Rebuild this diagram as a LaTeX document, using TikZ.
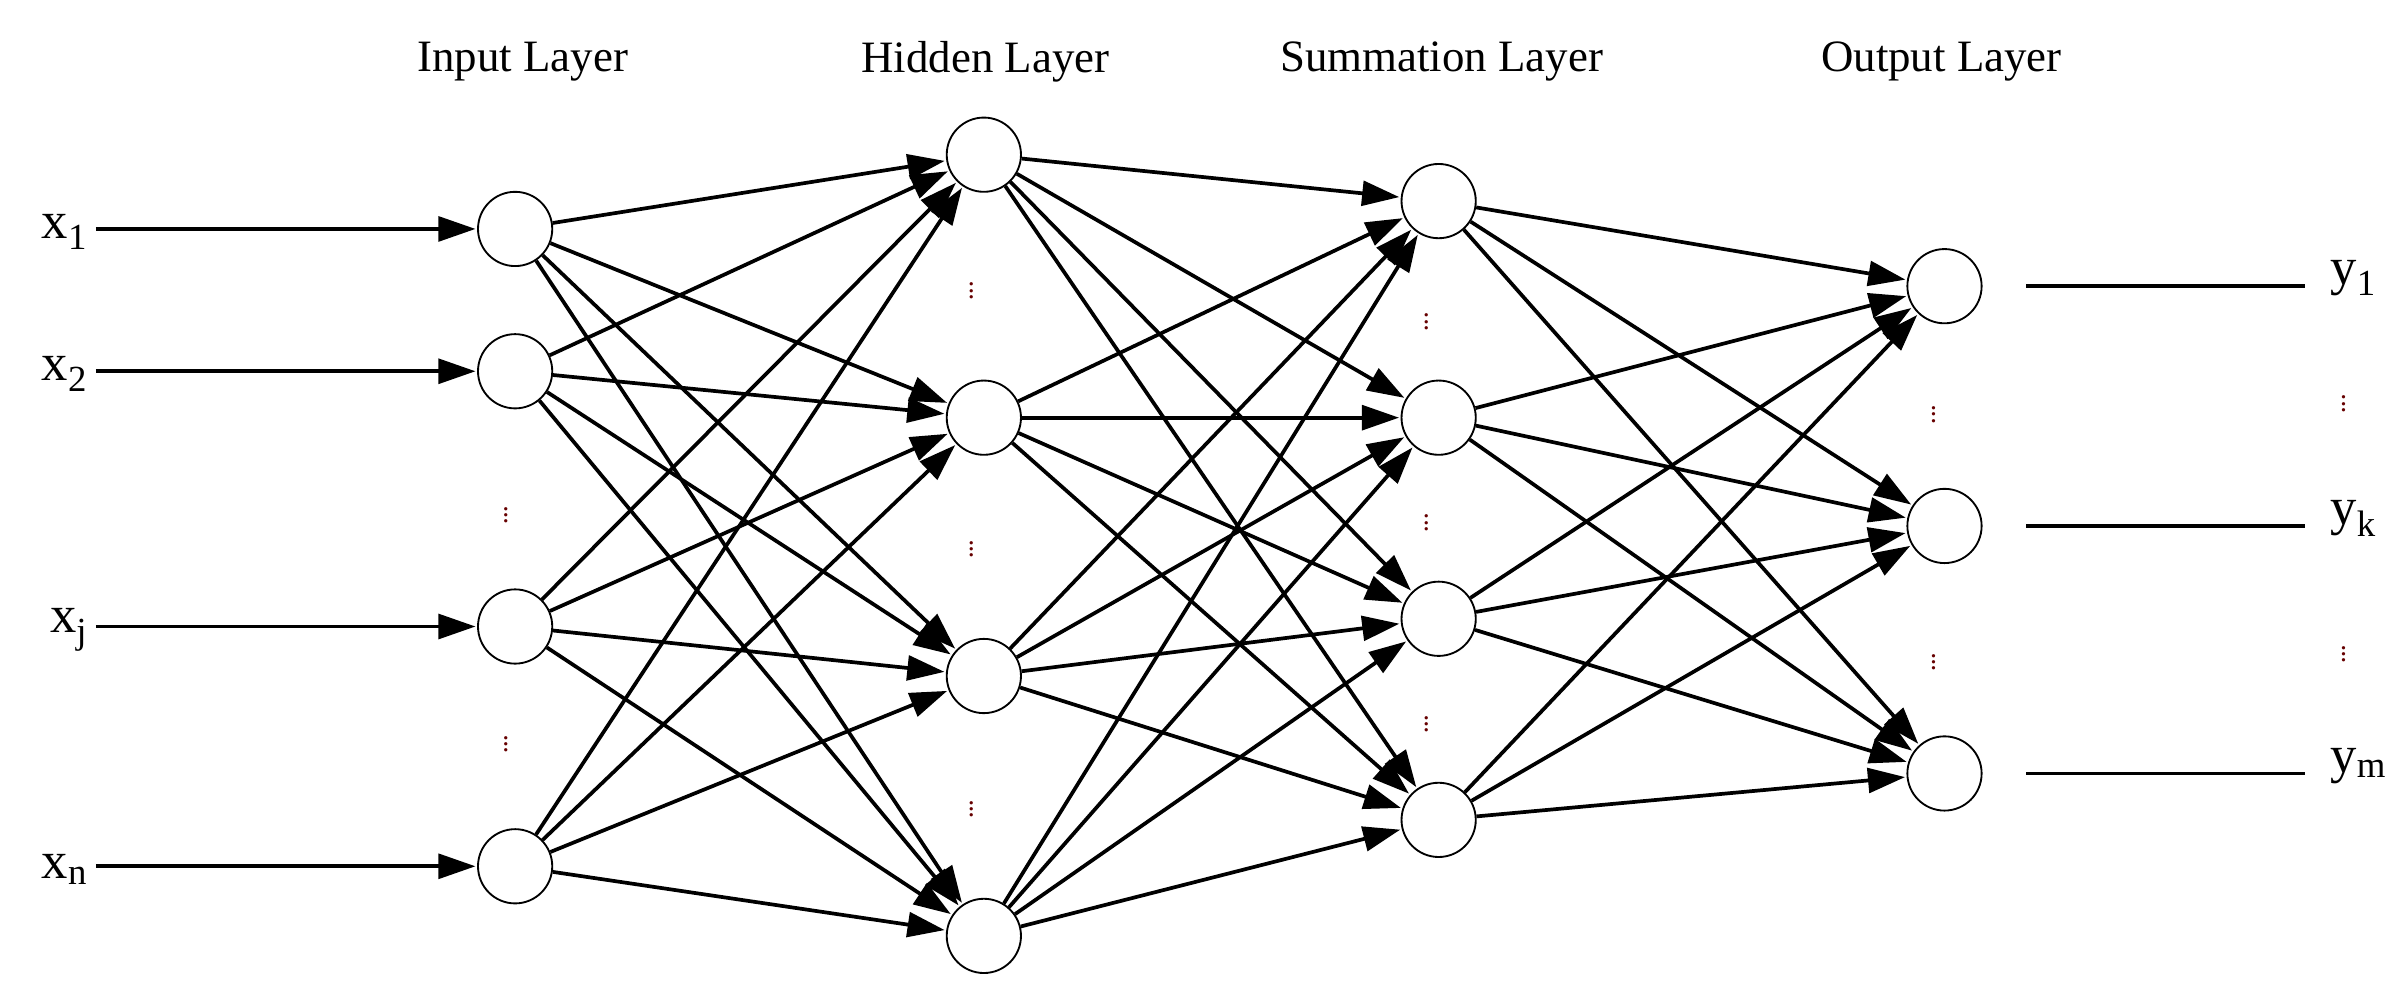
\documentclass[tikz,border=0pt]{standalone}
\usepackage{fontspec}
\setmainfont{Liberation Serif}
\usetikzlibrary{arrows.meta}
\begin{document}
\begin{tikzpicture}[x=1pt,y=-1pt,
 neuron/.style={circle,draw,line width=1.2pt,minimum size=48pt,inner sep=0pt,fill=white},
 conn/.style={-{Triangle[length=24pt,width=16pt]},line width=2.4pt,shorten >=1pt},
 ttl/.style={font=\fontsize{29}{30}\selectfont},
 lab/.style={font=\fontsize{34}{34}\selectfont},
 vd/.style={font=\fontsize{18}{18}\selectfont,text=red!40!black,inner sep=0pt}]
\useasboundingbox (0,0) rectangle (1545,634);
\node[ttl] (t1) at (338,40) {Input Layer};
\node[ttl] (t2) at (637,40) {Hidden Layer};
\node[ttl] (t3) at (932,40) {Summation Layer};
\node[ttl] (t4) at (1255,40) {Output Layer};
\foreach \n/\y in {1/148,2/240,3/405,4/560} \node[neuron] (i\n) at (333,\y) {};
\foreach \n/\y in {1/100,2/270,3/437,4/605} \node[neuron] (h\n) at (636,\y) {};
\foreach \n/\y in {1/130,2/270,3/400,4/530} \node[neuron] (s\n) at (930,\y) {};
\foreach \n/\y in {1/185,2/340,3/500} \node[neuron] (o\n) at (1257,\y) {};
\foreach \a in {1,...,4}{\foreach \b in {1,...,4}{\draw[conn] (i\a) -- (h\b); \draw[conn] (h\a) -- (s\b);}}
\foreach \a in {1,...,4}{\foreach \b in {1,2,3}{\draw[conn] (s\a) -- (o\b);}}
\foreach \n/\y/\t in {1/148/{x\textsubscript{1}},2/240/{x\textsubscript{2}},3/405/{x\textsubscript{j}},4/560/{x\textsubscript{n}}}{
 \node[lab,anchor=east] (x\n) at (60,\y+2) {\t};
 \coordinate (xs\n) at (62,\y);
 \draw[conn] (xs\n) -- (i\n);}
\foreach \n/\y/\t in {1/185/{y\textsubscript{1}},2/340/{y\textsubscript{k}},3/500/{y\textsubscript{m}}}{
 \coordinate (ya\n) at (1310,\y); \coordinate (yb\n) at (1490,\y);
 \draw[line width=2.4pt] (ya\n) -- (yb\n);
 \node[lab,anchor=west] (y\n) at (1503,\y-5) {\t};}
\foreach \x/\y [count=\i] in {327/330,327/478,628/185,628/352,628/520,922/205,922/335,922/465,1250/265,1250/425,1515/258,1515/420}
 \node[vd] (d\i) at (\x,\y) {$\vdots$};
\end{tikzpicture}
\end{document}
